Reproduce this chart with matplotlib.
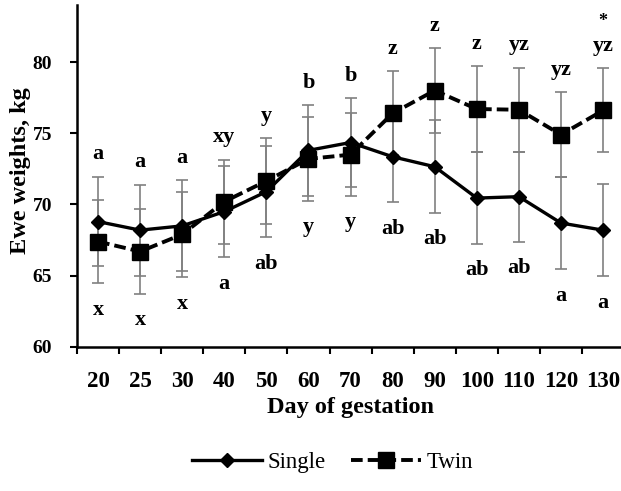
import numpy as np
import matplotlib
matplotlib.use("Agg")
import matplotlib.pyplot as plt

plt.rcParams['font.family'] = ['Liberation Serif', 'DejaVu Serif']
plt.rcParams['font.weight'] = 'bold'
plt.rcParams['axes.labelweight'] = 'bold'

# ewe weight (kg) by day of gestation, mean and SE
days = ['20', '25', '30', '40', '50', '60', '70', '80', '90', '100', '110', '120', '130']
single = [68.8, 68.2, 68.5, 69.5, 70.9, 73.8, 74.35, 73.35, 72.65, 70.45, 70.55, 68.7, 68.2]
single_se = [3.15, 3.2, 3.2, 3.2, 3.2, 3.2, 3.1, 3.2, 3.25, 3.23, 3.15, 3.25, 3.25]
twin = [67.4, 66.7, 67.9, 70.2, 71.65, 73.2, 73.5, 76.4, 78.0, 76.7, 76.65, 74.9, 76.6]
twin_se = [2.93, 2.95, 3.0, 2.95, 3.0, 2.95, 2.9, 2.95, 2.96, 3.0, 2.95, 3.0, 2.95]

# letters for differences within each group, * = single vs twin differ
single_letters = ['a', 'a', 'a', 'a', 'ab', 'b', 'b', 'ab', 'ab', 'ab', 'ab', 'a', 'a']
twin_letters = ['x', 'x', 'x', 'xy', 'y', 'y', 'y', 'z', 'z', 'z', 'yz', 'yz', 'yz']
signif = ['', '', '', '', '', '', '', '', '', '', '', '', '*']

single = np.array(single)
twin = np.array(twin)
single_se = np.array(single_se)
twin_se = np.array(twin_se)
x = np.arange(len(days))

fig = plt.figure(figsize=(6.21, 4.91), dpi=100)
ax = fig.add_axes([0.124, 0.2933, 0.881, 0.6965])

ax.errorbar(x, single, yerr=single_se, fmt='none', ecolor='#808080',
            elinewidth=1.2, capsize=4.5, capthick=1.2, zorder=1)
ax.errorbar(x, twin, yerr=twin_se, fmt='none', ecolor='#808080',
            elinewidth=1.2, capsize=4.5, capthick=1.2, zorder=1)

ax.plot(x, single, color='black', lw=2.4, marker='D', markersize=7.5,
        label='Single', zorder=3)
ax.plot(x, twin, color='black', lw=2.8, ls=(0, (3, 1.3)), marker='s',
        markersize=11.5, label='Twin', zorder=3)

# letters above the upper bar and below the lower bar
for i in range(len(days)):
    if twin[i] > single[i]:
        up, down = twin_letters[i], single_letters[i]
    else:
        up, down = single_letters[i], twin_letters[i]
    top = max(single[i] + single_se[i], twin[i] + twin_se[i])
    bot = min(single[i] - single_se[i], twin[i] - twin_se[i])
    ax.annotate(up, (x[i], top), xytext=(0, 16), textcoords='offset points',
                ha='center', va='center', fontsize=16)
    ax.annotate(down, (x[i], bot), xytext=(0, -19), textcoords='offset points',
                ha='center', va='center', fontsize=16)
    if signif[i]:
        ax.annotate(signif[i], (x[i], top), xytext=(0, 34), textcoords='offset points',
                    ha='center', va='center', fontsize=13)

ax.set_xlim(-0.5, 12.5)
ax.set_ylim(60, 84)
ax.set_yticks([60, 65, 70, 75, 80])
ax.set_xticks(np.arange(-0.5, 13, 1))
ax.set_xticklabels([])
ax.set_xticks(x, minor=True)
ax.set_xticklabels(days, minor=True)
ax.tick_params(axis='x', which='major', length=5, width=1.5, direction='out')
ax.tick_params(axis='x', which='minor', length=0, pad=17, labelsize=16.5)
ax.tick_params(axis='y', length=5, width=1.5, direction='out', pad=13, labelsize=14)

for side in ['top', 'right']:
    ax.spines[side].set_visible(False)
for side in ['left', 'bottom']:
    ax.spines[side].set_linewidth(1.8)

ax.set_ylabel('Ewe weights, kg', fontsize=17.5, va='center')
ax.yaxis.set_label_coords(-0.104, 0.515)
ax.set_xlabel('Day of gestation', fontsize=17.5, va='center')
ax.xaxis.set_label_coords(0.499, -0.178)

fig.legend(loc='center', bbox_to_anchor=(0.535, 0.059), ncol=2, frameon=False,
           handlelength=3.05, handletextpad=0.25, columnspacing=1.1,
           prop={'weight': 'normal', 'size': 16.5})

fig.savefig('out.png', dpi=100)
